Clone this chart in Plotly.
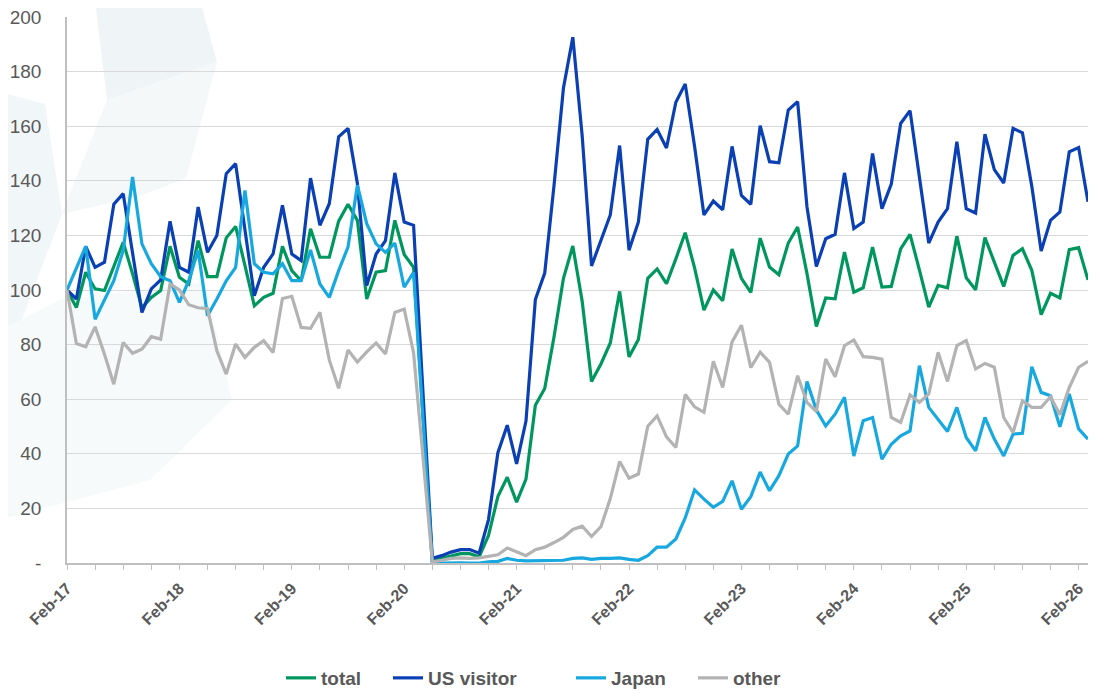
import plotly.graph_objects as go

# ---- data (monthly index, Feb-17 = 100) ----
months = []
_mn = ["Jan", "Feb", "Mar", "Apr", "May", "Jun", "Jul", "Aug", "Sep", "Oct", "Nov", "Dec"]
for k in range(110):
    m = (1 + k) % 12
    y = 17 + (1 + k) // 12
    months.append(f"{_mn[m]}-{y:02d}")

total = [100, 93.6, 106.5, 100.4, 99.8, 108.3, 117.5, 105.9, 93.5, 97.3, 99.8, 116, 104.7, 102.2, 118.1,
         104.9, 104.9, 119.1, 123.3, 108.9, 94.2, 97.3, 98.8, 116, 107.1, 103.4, 122.4, 112, 112, 125.2,
         131.4, 125.5, 96.7, 106.5, 107.1, 125.5, 113, 108.3, 55, 0.6, 1.7, 2.7, 3.4, 3.4, 2.3, 10.1,
         24.3, 31.4, 22.3, 30.7, 57.8, 63.9, 83, 104.3, 116.1, 95.9, 66.5, 72.9, 80.6, 99.5, 75.5, 81.9,
         104.3, 107.7, 102.3, 111.4, 121, 108.1, 92.6, 100, 96.1, 115, 104.3, 99.1, 119.0, 108.4, 105.6,
         117.2, 123.1, 106, 86.6, 97.1, 96.8, 113.9, 99.2, 100.8, 115.7, 101.1, 101.3, 115.1, 120.4,
         107.4, 93.7, 101.7, 100.8, 119.7, 104.5, 100.1, 119.2, 110.2, 101.3, 112.7, 115.1, 107.2, 91,
         98.8, 97.1, 114.8, 115.5, 103.7]

us_visitor = [100, 96.7, 116, 108.3, 110.2, 131.4, 135.3, 113.6, 91.8, 100.4, 103.7, 125.2, 108.3, 106.5,
              130.4, 113.8, 120, 142.6, 146.3, 122, 97.9, 108.3, 113.2, 131, 113.2, 110.8, 141, 123.7,
              131.6, 156.1, 159.2, 139, 101.6, 113.2, 118.1, 142.9, 124.9, 123.7, 62, 1.7, 2.7, 4.0, 4.9,
              4.9, 3.6, 15.9, 40.4, 50.5, 36.3, 52, 96.5, 106.2, 138.5, 174, 192.6, 156.5, 108.8, 117.8,
              127.5, 152.9, 114.6, 124.9, 155.2, 158.8, 152, 168.8, 175.5, 152.6, 127.5, 132.6, 129.4,
              152.6, 134.6, 131.4, 160.2, 147, 146.6, 165.9, 169, 130.4, 108.6, 118.8, 120.4, 142.9,
              122.5, 124.9, 150, 129.8, 138.8, 161, 165.7, 141.4, 117.2, 124.9, 129.8, 154.3, 129.8,
              128.2, 157.1, 144.1, 139.2, 159.2, 157.6, 138, 114.3, 125.5, 128.6, 150.6, 152.2, 132.3]

japan = [100, 108.3, 116, 89.3, 96.7, 103.4, 114.5, 141.4, 116.9, 109.6, 104.9, 103.4, 95.5, 103.4, 114.5,
         90.6, 96.7, 103.4, 108.3, 136.5, 109.6, 106.5, 105.9, 109.6, 103.4, 103.4, 114.7, 102.2, 97.3,
         107.1, 115.7, 138.4, 124.3, 116.9, 113.8, 117.2, 101, 106.5, 53, 0, 0, 0.1, 0.1, 0, 0, 0.4, 0.6,
         1.7, 1.0, 0.8, 0.8, 0.8, 0.8, 1.0, 1.7, 1.9, 1.3, 1.7, 1.7, 1.9, 1.3, 1.0, 2.7, 5.8, 5.8, 8.8,
         16.5, 26.8, 23.4, 20.4, 22.6, 30.1, 19.7, 24.3, 33.3, 26.5, 32, 39.9, 42.9, 66.5, 56, 50.2, 54.5,
         60.7, 39.2, 52.1, 53.3, 38, 43.5, 46.6, 48.4, 72.3, 57, 52.7, 48.2, 57, 46, 41.1, 53.3, 45.4,
         39.2, 47.2, 47.5, 71.9, 62.5, 61.3, 49.9, 61.9, 49.1, 45.4]

other = [100, 80.4, 79.2, 86.5, 76.5, 65.5, 80.8, 76.8, 78.3, 82.9, 82, 102.2, 100, 94.6, 93.5, 93.2, 77.7,
         69.2, 80.2, 75.3, 79, 81.4, 77.1, 96.9, 97.7, 86.3, 86, 91.8, 74.4, 64, 78, 73.6, 77.3, 80.6,
         76.6, 91.8, 93, 77, 39, 0.4, 1, 1.7, 1.9, 1.7, 1.9, 2.5, 3, 5.5, 4, 2.7, 4.9, 5.8, 7.5, 9.4,
         12.3, 13.5, 9.7, 13.3, 23.6, 37.2, 31.1, 32.6, 50.1, 53.9, 46.2, 42.3, 61.7, 57.2, 55.2, 73.9,
         64.3, 81, 87.1, 71.6, 77.2, 73.5, 58.2, 54.5, 68.6, 58.8, 55.5, 74.7, 68.2, 79.6, 81.7, 75.6,
         75.3, 74.7, 53.3, 51.5, 61.6, 58.8, 61.9, 77.2, 66.5, 79.6, 81.5, 71.1, 73.1, 71.7, 53.3, 47.8,
         59.4, 57, 57, 60.9, 54.3, 64.3, 71.7, 73.9]

series_names = ["total", "US visitor", "Japan", "other"]
series_colors = ["#00975F", "#0A40B4", "#18A8E0", "#B3B3B3"]
year_labels = ["Feb-17", "Feb-18", "Feb-19", "Feb-20", "Feb-21", "Feb-22", "Feb-23", "Feb-24", "Feb-25", "Feb-26"]
y_ticks = [0, 20, 40, 60, 80, 100, 120, 140, 160, 180, 200]
y_ticktext = ["-", "20", "40", "60", "80", "100", "120", "140", "160", "180", "200"]

# page body has an 8px default margin: size the figure to reach the window's right/bottom edges
OFF = 8
W, H = 1102 - OFF, 693 - OFF
L, T = 59, 9
pw, ph = 1021, 546
R, B = W - L - pw, H - T - ph


def px(x, y):
    """page pixel -> paper coordinates"""
    return (x - OFF - L) / pw, (OFF + T + ph - y) / ph


# ---- figure ----
fig = go.Figure()
legend_left_px = [281, 388, 571, 693]   # left edge of each legend entry (page pixels)
legend_names = ["legend", "legend2", "legend3", "legend4"]
for name, vals, col, lg in zip(series_names, [total, us_visitor, japan, other], series_colors, legend_names):
    fig.add_trace(go.Scatter(x=months, y=vals, name=name, mode="lines", legend=lg,
                             line=dict(color=col, width=3.2)))

# tick marks every 3 months, labels each February
tickvals = months[0:109:3]
ticktext = [lab if lab in year_labels else "" for lab in tickvals]


def poly(points):
    pts = [px(x, y) for x, y in points]
    return "M " + " L ".join(f"{a:.4f},{b:.4f}" for a, b in pts) + " Z"


watermark = [
    ([(95, 0), (200, 0), (217, 62), (107, 100)], "#EFF5F7"),
    ([(107, 100), (217, 62), (186, 178), (140, 196), (62, 214)], "#F4F8F9"),
    ([(0, 92), (45, 104), (62, 214), (18, 330), (0, 330)], "#F1F6F8"),
    ([(0, 330), (60, 300), (205, 282), (232, 400), (150, 480), (0, 520)], "#F7FAFB"),
]
shapes = [dict(type="path", xref="paper", yref="paper", path=poly(p), fillcolor=c,
               line=dict(width=0), layer="below") for p, c in watermark]

legend_font = dict(size=19, color="#595959", weight="bold")
legends = {}
for lg, lx in zip(legend_names, legend_left_px):
    legends[lg] = dict(orientation="h", x=px(lx, 0)[0], xanchor="left", y=px(0, 678)[1], yanchor="middle",
                       font=legend_font, itemwidth=30, bgcolor="rgba(0,0,0,0)")

fig.update_layout(
    width=W, height=H,
    margin=dict(l=L, r=R, t=T, b=B, autoexpand=False),
    paper_bgcolor="white", plot_bgcolor="rgba(0,0,0,0)",
    font=dict(family="Liberation Sans, Arial, sans-serif", color="#595959"),
    shapes=shapes,
    showlegend=True,
    xaxis=dict(type="category", range=[0, 109], tickmode="array", tickvals=tickvals, automargin=False,
               ticktext=ticktext, tickangle=-45, ticks="outside", ticklen=5, tickcolor="#BFBFBF",
               showline=True, linecolor="#BFBFBF", linewidth=1.5, showgrid=False, zeroline=False,
               ticklabelstandoff=3, ticklabeloverflow="allow",
               tickfont=dict(size=16, color="#595959", weight="bold")),
    yaxis=dict(range=[0, 200], tickmode="array", tickvals=y_ticks, ticktext=y_ticktext, automargin=False,
               showgrid=True, gridcolor="#D9D9D9", gridwidth=1, showline=True, linecolor="#BFBFBF",
               linewidth=1.5, zeroline=False, ticks="", ticklabelstandoff=20, ticklabeloverflow="allow",
               tickfont=dict(size=19, color="#595959")),
    **legends,
)

fig.write_html("out.html")
